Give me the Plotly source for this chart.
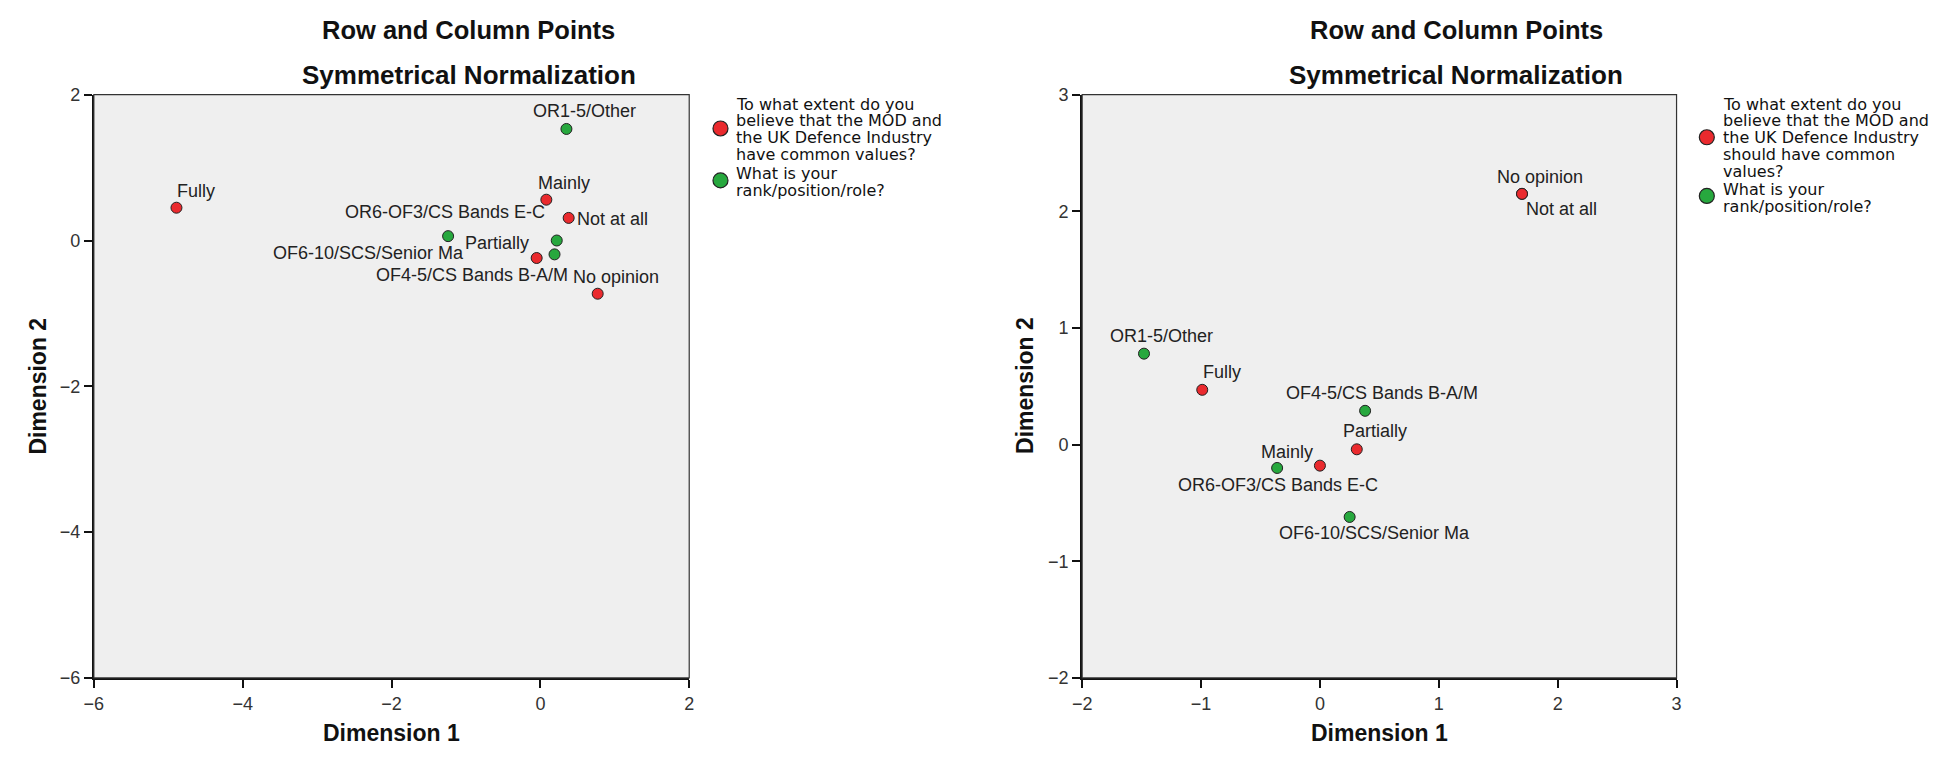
import plotly.graph_objects as go

# ---------------- data ----------------
row_labels = ["Fully", "Mainly", "Partially", "Not at all", "No opinion"]
col_labels = ["OR1-5/Other", "OR6-OF3/CS Bands E-C", "OF4-5/CS Bands B-A/M", "OF6-10/SCS/Senior Ma"]

# chart 1 (have common values?)
row1_dim1 = [-4.89, 0.08, -0.05, 0.38, 0.77]
row1_dim2 = [0.45, 0.56, -0.24, 0.31, -0.73]
col1_dim1 = [0.35, -1.24, 0.19, 0.22]
col1_dim2 = [1.53, 0.06, -0.19, 0.00]

# chart 2 (should have common values?)
row2_dim1 = [-0.99, 0.00, 0.31, 1.70, 1.70]
row2_dim2 = [0.47, -0.18, -0.04, 2.15, 2.15]
col2_dim1 = [-1.48, -0.36, 0.38, 0.25]
col2_dim2 = [0.78, -0.20, 0.29, -0.62]

x1_ticks = [-6, -4, -2, 0, 2]
y1_ticks = [-6, -4, -2, 0, 2]
x2_ticks = [-2, -1, 0, 1, 2, 3]
y2_ticks = [-2, -1, 0, 1, 2, 3]

legend1_row = ["To what extent do you", "believe that the MOD and", "the UK Defence Industry", "have common values?"]
legend2_row = ["To what extent do you", "believe that the MOD and", "the UK Defence Industry", "should have common", "values?"]
legend_col = ["What is your", "rank/position/role?"]

title1 = "Row and Column Points"
title2 = "Symmetrical Normalization"
xlab = "Dimension 1"
ylab = "Dimension 2"

# ---------------- style / layout ----------------
W, H = 1946, 759
RED = "#ea2a2e"
GREEN = "#27a83e"
BG = "#efefef"
MAIN = "Liberation Sans, Arial, sans-serif"
LEG_FONT = "DejaVu Sans, Verdana, sans-serif"


def fx(p):
    return p / W


def fy(p):
    return 1 - p / H


# label placement (anchor, xshift, yshift) per point
row1_pos = [("left", -1, 17), ("center", 18, 17), ("right", -6, 15), ("left", 6, -1), ("center", 18, 17)]
col1_pos = [("center", 18, 18), ("center", -3, 24), ("right", 15, -21), ("right", -91, -12)]
row2_pos = [("left", -1, 18), ("right", -5, 14), ("center", 18, 18), ("left", 2, -15), ("center", 18, 17)]
col2_pos = [("center", 18, 18), ("center", 1, -17), ("center", 17, 18), ("center", 25, -16)]

fig = go.Figure()

panels = [
    dict(xa="x", ya="y", rx=row1_dim1, ry=row1_dim2, cx=col1_dim1, cy=col1_dim2,
         rpos=row1_pos, cpos=col1_pos),
    dict(xa="x2", ya="y2", rx=row2_dim1, ry=row2_dim2, cx=col2_dim1, cy=col2_dim2,
         rpos=row2_pos, cpos=col2_pos),
]

annotations = []
for p in panels:
    fig.add_trace(go.Scatter(x=p["cx"], y=p["cy"], mode="markers", text=col_labels,
                             marker=dict(color=GREEN, size=11, line=dict(color="#222", width=1)),
                             xaxis=p["xa"], yaxis=p["ya"], showlegend=False, hoverinfo="text"))
    fig.add_trace(go.Scatter(x=p["rx"], y=p["ry"], mode="markers", text=row_labels,
                             marker=dict(color=RED, size=11, line=dict(color="#222", width=1)),
                             xaxis=p["xa"], yaxis=p["ya"], showlegend=False, hoverinfo="text"))
    for labels, xs, ys, pos in [(row_labels, p["rx"], p["ry"], p["rpos"]),
                                (col_labels, p["cx"], p["cy"], p["cpos"])]:
        for lab, xv, yv, (anc, dx, dy) in zip(labels, xs, ys, pos):
            annotations.append(dict(x=xv, y=yv, xref=p["xa"], yref=p["ya"], text=lab,
                                    showarrow=False, xanchor=anc, yanchor="middle",
                                    xshift=dx, yshift=dy,
                                    font=dict(family=MAIN, size=18, color="#222")))

# titles and axis titles
for title_cx, plot_cx, ylab_cx in [(462.5, 384.5, 28), (1457.5, 1380, 1023)]:
    annotations.append(dict(x=fx(title_cx), y=fy(21), xref="paper", yref="paper", text="<b>" + title1 + "</b>",
                            showarrow=False, xanchor="center", yanchor="middle",
                            font=dict(family=MAIN, size=25.5, color="#111")))
    annotations.append(dict(x=fx(title_cx), y=fy(67), xref="paper", yref="paper", text="<b>" + title2 + "</b>",
                            showarrow=False, xanchor="center", yanchor="middle",
                            font=dict(family=MAIN, size=26, color="#111")))
    annotations.append(dict(x=fx(plot_cx), y=fy(743), xref="paper", yref="paper", text="<b>" + xlab + "</b>",
                            showarrow=False, xanchor="center", yanchor="middle",
                            font=dict(family=MAIN, size=23, color="#111")))
    annotations.append(dict(x=fx(ylab_cx), y=fy(386), xref="paper", yref="paper", text="<b>" + ylab + "</b>",
                            showarrow=False, xanchor="center", yanchor="middle", textangle=-90,
                            font=dict(family=MAIN, size=23, color="#111")))

# legends (text lines + symbols)
shapes = []
legends = [
    dict(text_x=730, sym_x=716, rows=legend1_row, row_y0=96.7, row_sym=121.7,
         col_y0=168.3, col_sym=175),
    dict(text_x=1724, sym_x=1710, rows=legend2_row, row_y0=96.7, row_sym=130.7,
         col_y0=184.5, col_sym=191),
]
LINE = 17.2
for lg in legends:
    for i, line in enumerate(lg["rows"]):
        annotations.append(dict(x=fx(lg["text_x"]), y=fy(lg["row_y0"] + i * LINE), xref="paper", yref="paper",
                                text=line, showarrow=False, xanchor="left", yanchor="middle",
                                font=dict(family=LEG_FONT, size=16, color="#111")))
    for i, line in enumerate(legend_col):
        annotations.append(dict(x=fx(lg["text_x"]), y=fy(lg["col_y0"] + i * LINE), xref="paper", yref="paper",
                                text=line, showarrow=False, xanchor="left", yanchor="middle",
                                font=dict(family=LEG_FONT, size=16, color="#111")))
    for cy, col in [(lg["row_sym"], RED), (lg["col_sym"], GREEN)]:
        shapes.append(dict(type="circle", xref="paper", yref="paper",
                           xsizemode="pixel", ysizemode="pixel",
                           xanchor=fx(lg["sym_x"]), yanchor=fy(cy),
                           x0=-7.5, x1=7.5, y0=-7.5, y1=7.5,
                           fillcolor=col, line=dict(color="#222", width=1.2)))

for xa, ya in [("x", "y"), ("x2", "y2")]:
    shapes.append(dict(type="rect", xref=xa + " domain", yref=ya + " domain", x0=0, x1=1, y0=0, y1=1,
                       line=dict(color="#333", width=1.2), layer="above"))

axis_common = dict(showgrid=False, zeroline=False, showline=True, linecolor="#111", linewidth=2,
                   ticks="outside", ticklen=8, tickwidth=2, tickcolor="#111",
                   tickfont=dict(family=MAIN, size=18, color="#333"), fixedrange=True)

fig.update_layout(
    width=W, height=H,
    margin=dict(l=0, r=0, t=0, b=0),
    paper_bgcolor="white", plot_bgcolor=BG,
    showlegend=False,
    xaxis=dict(domain=[fx(84.5), fx(684.5)], range=[-6, 2], tickvals=x1_ticks, anchor="y", **axis_common),
    yaxis=dict(domain=[fy(686), fy(87)], range=[-6, 2], tickvals=y1_ticks, anchor="x", **axis_common),
    xaxis2=dict(domain=[fx(1080.5), fx(1679.5)], range=[-2, 3], tickvals=x2_ticks, anchor="y2", **axis_common),
    yaxis2=dict(domain=[fy(686), fy(87)], range=[-2, 3], tickvals=y2_ticks, anchor="x2", **axis_common),
    annotations=annotations,
    shapes=shapes,
)

fig.write_html("out.html")
